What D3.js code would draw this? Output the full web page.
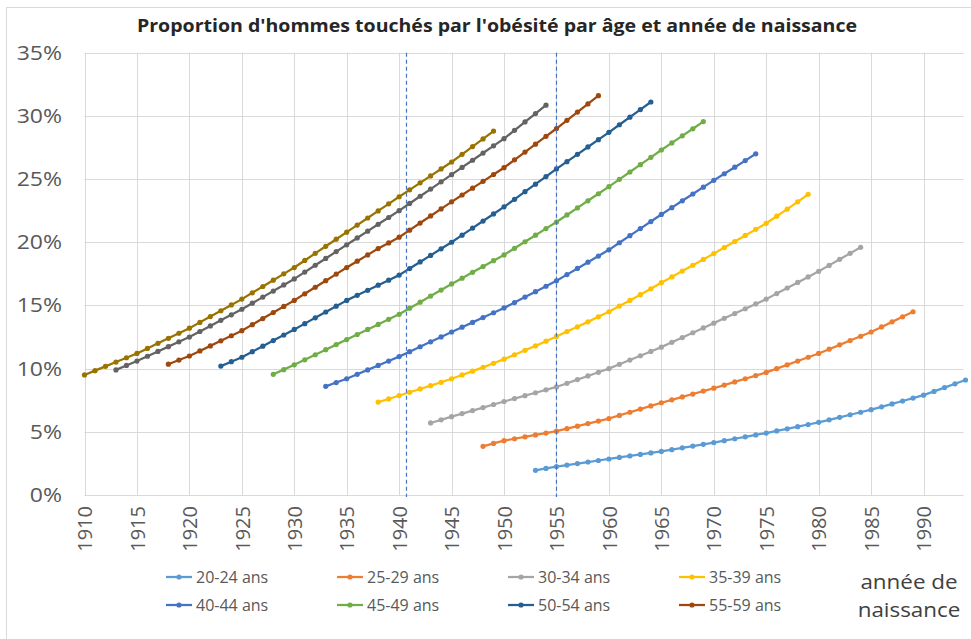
<html>
<head>
<meta charset="utf-8">
<script src="https://cdn.jsdelivr.net/npm/d3@7"></script>
<style>
  body { margin: 0; background: #fff; }
  text { font-family: "Open Sans", sans-serif; }
</style>
</head>
<body>
<div id="chart"></div>
<script>

// ---- data (% of men, by birth year) ----
let ageGroups = ["20-24 ans", "25-29 ans", "30-34 ans", "35-39 ans", "40-44 ans",
                 "45-49 ans", "50-54 ans", "55-59 ans", "60-64 ans", "65-69 ans"];
let firstYear = [1953, 1948, 1943, 1938, 1933, 1928, 1923, 1918, 1913, 1910];

let v20 = [1.95, 2.1, 2.25, 2.37, 2.49, 2.61, 2.73, 2.85, 2.97, 3.09, 3.21, 3.33, 3.45, 3.59, 3.73, 3.87, 4.01, 4.15,
  4.3, 4.45, 4.6, 4.75, 4.9, 5.07, 5.24, 5.41, 5.58, 5.75, 5.95, 6.15, 6.35, 6.55, 6.75, 6.98, 7.21, 7.44, 7.67, 7.9,
  8.2, 8.5, 8.8, 9.1];
let v25 = [3.85, 4.08, 4.3, 4.45, 4.6, 4.75, 4.9, 5.05, 5.25, 5.45, 5.65, 5.85, 6.05, 6.3, 6.55, 6.8, 7.05, 7.3,
  7.53, 7.76, 7.99, 8.22, 8.45, 8.7, 8.95, 9.2, 9.45, 9.7, 10.0, 10.3, 10.6, 10.9, 11.2, 11.54, 11.88, 12.22, 12.56,
  12.9, 13.3, 13.7, 14.1, 14.5];
let v30 = [5.7, 5.95, 6.2, 6.44, 6.68, 6.92, 7.16, 7.4, 7.63, 7.86, 8.09, 8.32, 8.55, 8.84, 9.13, 9.42, 9.71, 10.0,
  10.34, 10.68, 11.02, 11.36, 11.7, 12.08, 12.46, 12.84, 13.22, 13.6, 13.98, 14.36, 14.74, 15.12, 15.5, 15.94, 16.38,
  16.82, 17.26, 17.7, 18.17, 18.65, 19.12, 19.6];
let v35 = [7.35, 7.6, 7.87, 8.13, 8.39, 8.65, 8.92, 9.2, 9.5, 9.8, 10.1, 10.42, 10.75, 11.1, 11.45, 11.8, 12.17,
  12.55, 12.93, 13.31, 13.7, 14.1, 14.5, 14.95, 15.4, 15.85, 16.32, 16.8, 17.26, 17.72, 18.18, 18.64, 19.1, 19.58,
  20.06, 20.54, 21.02, 21.5, 22.06, 22.62, 23.2, 23.8];
let v40 = [8.6, 8.9, 9.2, 9.55, 9.9, 10.25, 10.6, 10.95, 11.34, 11.73, 12.12, 12.51, 12.9, 13.28, 13.66, 14.04,
  14.42, 14.8, 15.23, 15.66, 16.09, 16.52, 16.95, 17.44, 17.93, 18.42, 18.91, 19.4, 19.96, 20.52, 21.08, 21.64, 22.2,
  22.74, 23.28, 23.82, 24.36, 24.9, 25.42, 25.94, 26.46, 27.0];
let v45 = [9.55, 9.92, 10.3, 10.7, 11.1, 11.5, 11.9, 12.3, 12.7, 13.1, 13.5, 13.9, 14.3, 14.78, 15.26, 15.74, 16.22,
  16.7, 17.16, 17.62, 18.08, 18.54, 19.0, 19.52, 20.04, 20.56, 21.08, 21.6, 22.16, 22.72, 23.28, 23.84, 24.4, 24.98,
  25.56, 26.14, 26.72, 27.3, 27.86, 28.42, 28.98, 29.55];
let v50 = [10.2, 10.55, 10.9, 11.34, 11.78, 12.22, 12.66, 13.1, 13.56, 14.02, 14.48, 14.94, 15.4, 15.8, 16.2, 16.6,
  17.0, 17.4, 17.92, 18.44, 18.96, 19.48, 20.0, 20.56, 21.12, 21.68, 22.24, 22.8, 23.4, 24.0, 24.6, 25.2, 25.8, 26.38,
  26.96, 27.54, 28.12, 28.7, 29.3, 29.9, 30.5, 31.1];
let v55 = [10.35, 10.68, 11.0, 11.4, 11.8, 12.2, 12.6, 13.0, 13.48, 13.96, 14.44, 14.92, 15.4, 15.92, 16.44, 16.96,
  17.48, 18.0, 18.5, 19.0, 19.5, 19.95, 20.4, 20.96, 21.52, 22.08, 22.64, 23.2, 23.74, 24.28, 24.82, 25.36, 25.9,
  26.52, 27.14, 27.76, 28.38, 29.0, 29.65, 30.3, 30.95, 31.6];
let v60 = [9.9, 10.25, 10.6, 10.98, 11.36, 11.74, 12.12, 12.5, 12.94, 13.38, 13.82, 14.26, 14.7, 15.18, 15.66, 16.14,
  16.62, 17.1, 17.64, 18.18, 18.72, 19.26, 19.8, 20.34, 20.88, 21.42, 21.96, 22.5, 23.07, 23.64, 24.21, 24.78, 25.35,
  25.92, 26.49, 27.06, 27.63, 28.2, 28.86, 29.52, 30.18, 30.85];
let v65 = [9.5, 9.84, 10.18, 10.52, 10.86, 11.2, 11.6, 12.0, 12.4, 12.8, 13.2, 13.66, 14.12, 14.58, 15.04, 15.5, 16.0,
  16.5, 17.0, 17.5, 18.0, 18.56, 19.12, 19.68, 20.24, 20.8, 21.36, 21.92, 22.48, 23.04, 23.6, 24.15, 24.7, 25.25, 25.8,
  26.35, 26.96, 27.57, 28.18, 28.8];

let seriesValues = [v20, v25, v30, v35, v40, v45, v50, v55, v60, v65];
let seriesColors = ["#5B9BD5", "#ED7D31", "#A5A5A5", "#FFC000", "#4472C4",
                    "#70AD47", "#255E91", "#9E480E", "#636363", "#997300"];
let legendCount = 8;   // only the first 8 groups appear in the legend

let xTickYears = d3.range(1910, 1991, 5);
let yTickValues = [0, 5, 10, 15, 20, 25, 30, 35];
let guideYears = [1940.7, 1955];

let titleText = "Proportion d'hommes touchés par l'obésité par âge et année de naissance";
let axisNote = ["année de", "naissance"];

// ---- layout ----
let width = 971;
let height = 639;
let stretch = 1.15;   // the source text is drawn a bit wide

let x = d3.scaleLinear().domain([1910, 1994]).range([84.5, 965.5]);
let y = d3.scaleLinear().domain([0, 35]).range([495, 52.7]);

let svg = d3.select('#chart')
    .append('svg')
    .attr('width', width)
    .attr('height', height);

// chart area frame (right/bottom edges fall outside the picture)
svg.append('rect')
    .attr('x', 6.5).attr('y', 7.5)
    .attr('width', 1000).attr('height', 700)
    .attr('fill', 'none')
    .attr('stroke', '#d9d9d9');

function wideText(g, px, py, str, sx) {
    return g.append('text')
        .attr('transform', 'translate(' + px + ',' + py + ') scale(' + (sx || stretch) + ',1)')
        .text(str);
}

// title
wideText(svg, 497, 32, titleText)
    .attr('text-anchor', 'middle')
    .attr('font-size', 17)
    .attr('font-weight', 'bold')
    .attr('fill', '#262626');

// gridlines
let grid = svg.append('g').attr('class', 'grid');
grid.selectAll('line.h')
    .data(yTickValues)
    .enter().append('line')
    .attr('class', 'h')
    .attr('x1', x(1910)).attr('x2', x(1994) - 2)
    .attr('y1', d => Math.round(y(d)) + 0.5)
    .attr('y2', d => Math.round(y(d)) + 0.5)
    .attr('stroke', '#d9d9d9');

grid.selectAll('line.v')
    .data(xTickYears)
    .enter().append('line')
    .attr('class', 'v')
    .attr('x1', d => Math.round(x(d)) + 0.5)
    .attr('x2', d => Math.round(x(d)) + 0.5)
    .attr('y1', y(35)).attr('y2', y(0))
    .attr('stroke', '#d9d9d9');

// y axis labels
let yAxis = svg.append('g').attr('class', 'y-axis');
yTickValues.forEach(function(d) {
    wideText(yAxis, 62, y(d), d + '%')
        .attr('text-anchor', 'end')
        .attr('dy', '0.35em')
        .attr('font-size', 20)
        .attr('fill', '#595959');
});

// x axis labels, rotated
let xAxis = svg.append('g')
    .attr('class', 'x-axis')
    .attr('transform', 'translate(0,506)')
    .call(d3.axisBottom(x).tickValues(xTickYears).tickFormat(d3.format('d')).tickSize(0));
xAxis.select('.domain').remove();
xAxis.selectAll('text')
    .attr('transform', 'rotate(-90)')
    .attr('text-anchor', 'end')
    .attr('x', 0)
    .attr('y', 0)
    .attr('dy', '0.36em')
    .attr('font-size', 20)
    .attr('font-family', '"Open Sans", sans-serif')
    .attr('fill', '#595959');

// series
let series = seriesValues.map(function(vals, i) {
    return vals.map(function(v, k) { return { year: firstYear[i] + k, value: v }; });
});

let line = d3.line()
    .x(d => x(d.year))
    .y(d => y(d.value));

let plot = svg.append('g').attr('class', 'series');
series.forEach(function(pts, i) {
    let g = plot.append('g');
    g.append('path')
        .datum(pts)
        .attr('d', line)
        .attr('fill', 'none')
        .attr('stroke', seriesColors[i])
        .attr('stroke-width', 2.25)
        .attr('stroke-linejoin', 'round');
    g.selectAll('circle')
        .data(pts)
        .enter().append('circle')
        .attr('cx', d => x(d.year))
        .attr('cy', d => y(d.value))
        .attr('r', 2.6)
        .attr('fill', seriesColors[i]);
});

// dashed guides
svg.append('g')
    .selectAll('line')
    .data(guideYears)
    .enter().append('line')
    .attr('x1', d => x(d)).attr('x2', d => x(d))
    .attr('y1', y(35)).attr('y2', y(0) + 2)
    .attr('stroke', '#4472C4')
    .attr('stroke-width', 1.2)
    .attr('stroke-dasharray', '4,3');

// legend
let legend = svg.append('g').attr('class', 'legend');
for (let i = 0; i < legendCount; i++) {
    let lx = 166 + (i % 4) * 171;
    let ly = 577 + Math.floor(i / 4) * 28;
    legend.append('line')
        .attr('x1', lx).attr('x2', lx + 26)
        .attr('y1', ly).attr('y2', ly)
        .attr('stroke', seriesColors[i])
        .attr('stroke-width', 2.25);
    legend.append('circle')
        .attr('cx', lx + 13).attr('cy', ly)
        .attr('r', 2.6)
        .attr('fill', seriesColors[i]);
    wideText(legend, lx + 30, ly, ageGroups[i], 1)
        .attr('dy', '0.35em')
        .attr('font-size', 16)
        .attr('fill', '#595959');
}

// axis title
axisNote.forEach(function(s, k) {
    wideText(svg, 909, 582 + k * 28, s)
        .attr('text-anchor', 'middle')
        .attr('dy', '0.35em')
        .attr('font-size', 19.5)
        .attr('fill', '#404040');
});

</script>
</body>
</html>
